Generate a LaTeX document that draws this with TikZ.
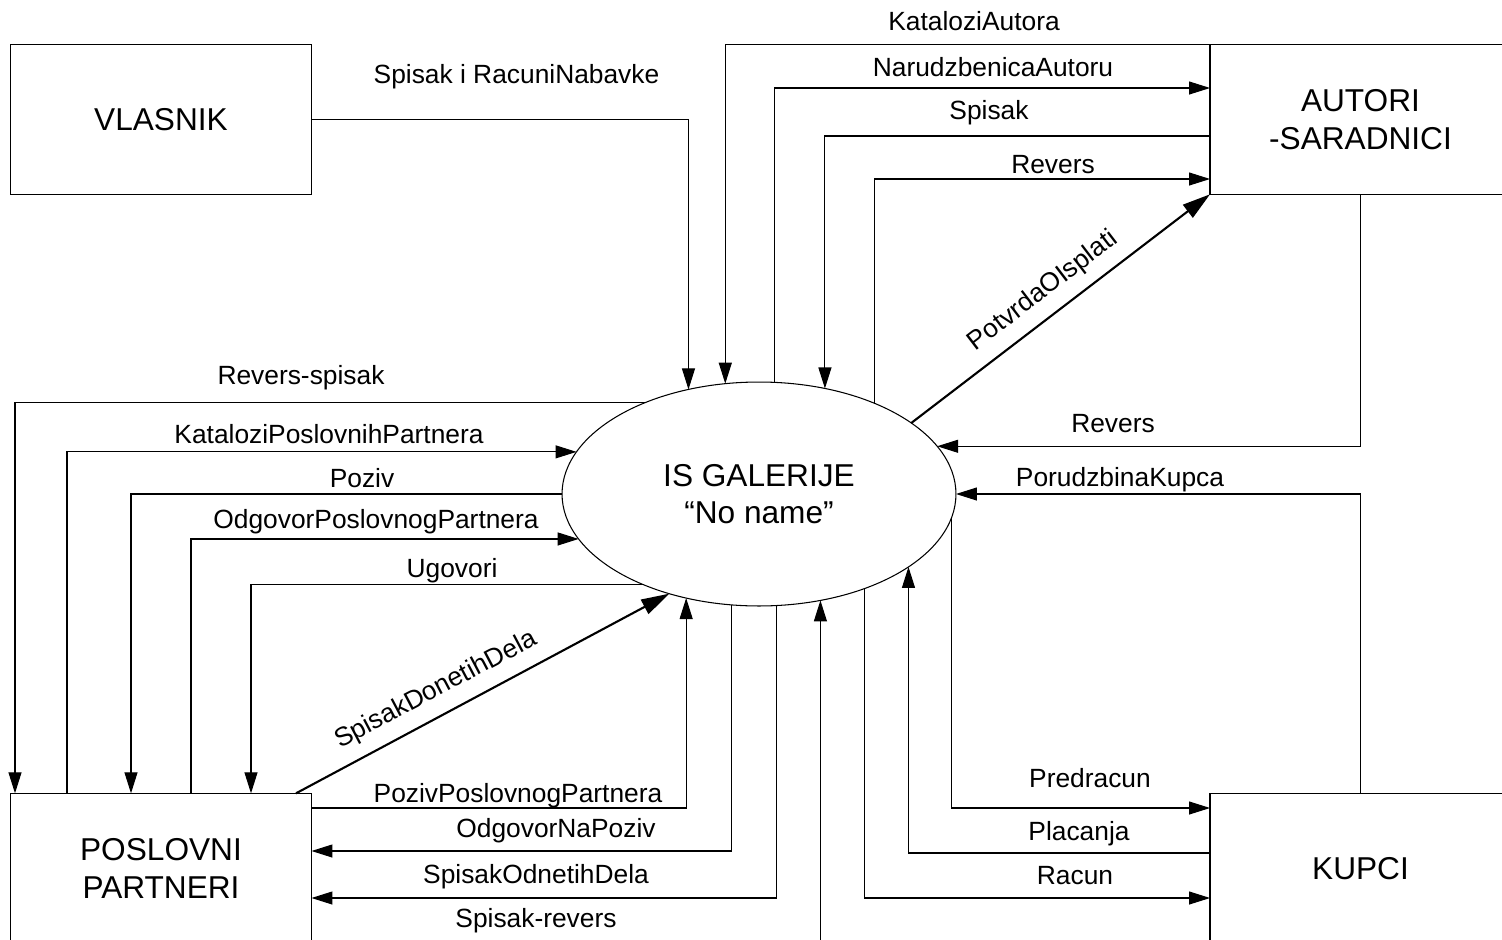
\documentclass[tikz,border=0pt]{standalone}
\usepackage{fontspec}
\setmainfont{Liberation Sans}
\usetikzlibrary{arrows.meta,shapes.geometric}

\begin{document}
\begin{tikzpicture}[x=0.02cm,y=-0.02cm,
    >={Triangle[length=4.2mm,width=2.6mm]},
    flow/.style={line width=0.6pt},
    bigflow/.style={line width=1.2pt,>={Triangle[length=5.6mm,width=3.2mm]}},
    entity/.style={draw,line width=0.8pt,minimum width=6.02cm,minimum height=3cm,
        inner sep=0pt,outer sep=0pt,align=center,font=\fontsize{18pt}{21.5pt}\selectfont},
    process/.style={draw,ellipse,line width=0.6pt,minimum width=7.88cm,minimum height=4.48cm,
        inner sep=0pt,outer sep=0pt,align=center,font=\fontsize{18pt}{21.5pt}\selectfont},
    lbl/.style={anchor=base,inner sep=0pt,font=\fontsize{15pt}{18pt}\selectfont}]
    \useasboundingbox (0,0) rectangle (1502,940);

    \node[entity] (V) at (161,119.3) {VLASNIK};
    \node[entity] (A) at (1360.5,119.3) {AUTORI\\-SARADNICI};
    \node[entity] (P) at (161,868.3) {POSLOVNI\\PARTNERI};
    \node[entity] (K) at (1360.5,868.3) {KUPCI};
    \node[process] (E) at (759,494) {IS GALERIJE\\“No name”};

    \draw[flow,->] (V.east) -| (E.124);
    \draw[flow,->] (A.north west) -| (E.107);
    \draw[flow,->] (E.82) |- (A.west |- 0,88);
    \draw[flow,->] (A.west |- 0,136) -| (E.58);
    \draw[flow,->] (E.38) |- (A.west |- 0,179);
    \draw[bigflow,->] (E.25) -- (A.south west);
    \draw[flow,->] (A.south) |- (E.15);
    \draw[flow,->] (K.north) |- (E.east);
    \draw[flow,->] (E.-7) |- (K.west |- 0,808);
    \draw[flow,->] (K.west |- 0,853) -| (E.-26);
    \draw[flow,->] (E.-42) |- (K.west |- 0,898);
    \draw[flow,->] (P.south east) -| (E.-60);
    \draw[flow,->] (E.-81) |- (P.east |- 0,898);
    \draw[flow,->] (E.-104) |- (P.east |- 0,851);
    \draw[flow,->] (P.east |- 0,808) -| (E.-125);
    \draw[bigflow,->] (P.north -| 296,0) -- (E.-132);
    \draw[flow,->] (E.141) -| (P.north -| 15,0);
    \draw[flow,->] (P.north -| 67,0) |- (E.167);
    \draw[flow,->] (E.west) -| (P.north -| 131,0);
    \draw[flow,->] (P.north -| 191,0) |- (E.-166);
    \draw[flow,->] (E.-142) -| (P.north -| 251,0);

    \node[lbl] (l1) at (516.5,83) {Spisak i RacuniNabavke};
    \node[lbl] (l2) at (974,30) {KataloziAutora};
    \node[lbl] (l3) at (993,76) {NarudzbenicaAutoru};
    \node[lbl] (l4) at (989,119) {Spisak};
    \node[lbl] (l5) at (1053,173) {Revers};
    \node[lbl,anchor=center,rotate=37.4] (l6) at (1043,291) {PotvrdaOIsplati};
    \node[lbl] (l7) at (1113,432) {Revers};
    \node[lbl] (l8) at (1120,486) {PorudzbinaKupca};
    \node[lbl] (l9) at (1090,787) {Predracun};
    \node[lbl] (l10) at (1079,840) {Placanja};
    \node[lbl] (l11) at (1075,884) {Racun};
    \node[lbl] (l12) at (536,927) {Spisak-revers};
    \node[lbl] (l13) at (536,883) {SpisakOdnetihDela};
    \node[lbl] (l14) at (556,837) {OdgovorNaPoziv};
    \node[lbl] (l15) at (518,802) {PozivPoslovnogPartnera};
    \node[lbl,anchor=center,rotate=27.8] (l16) at (436,690) {SpisakDonetihDela};
    \node[lbl] (l17) at (301,384) {Revers-spisak};
    \node[lbl] (l18) at (329,443) {KataloziPoslovnihPartnera};
    \node[lbl] (l19) at (362,487) {Poziv};
    \node[lbl] (l20) at (376,528) {OdgovorPoslovnogPartnera};
    \node[lbl] (l21) at (452,577) {Ugovori};
\end{tikzpicture}
\end{document}
